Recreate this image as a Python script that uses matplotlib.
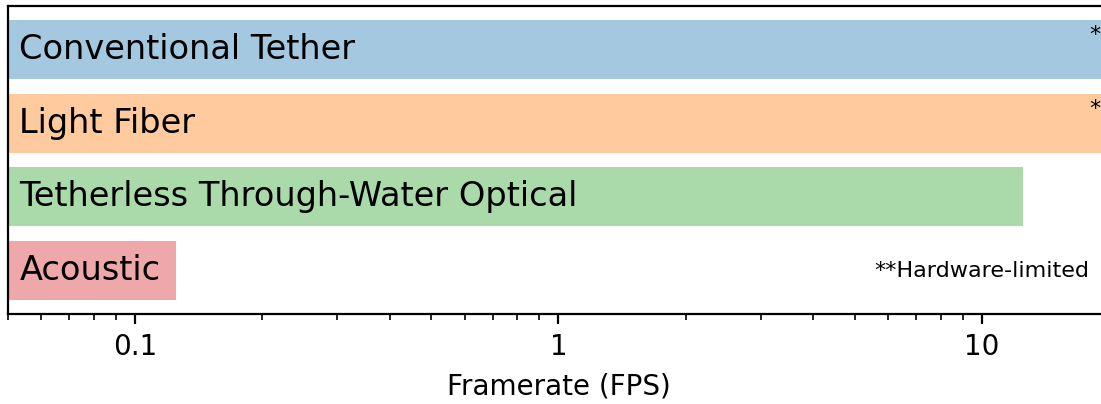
import matplotlib
matplotlib.use('Agg')
import matplotlib.pyplot as plt
import matplotlib.transforms as mtransforms

# Framerate of each underwater link type (FPS)
links = ['Conventional Tether', 'Light Fiber', 'Tetherless Through-Water Optical', 'Acoustic']
framerates = [30.0, 30.0, 12.5, 0.125]
colors = ['tab:blue', 'tab:orange', 'tab:green', 'tab:red']
hardware_limited = [True, True, False, False]

fig = plt.figure(figsize=(5.505, 2.02), dpi=200)
ax = fig.add_axes([7.5 / 1101, 90 / 404, 1102 / 1101, 308 / 404])

y_pos = list(range(len(links)))
ax.barh(y_pos, framerates, color=colors, alpha=0.4, height=0.8)
ax.set_xscale('log')
ax.set_xlim(0.05, 20)
ax.invert_yaxis()
ax.set_yticks([])
ax.set_xticks([0.1, 1, 10])
ax.set_xticklabels(['0.1', '1', '10'])
ax.set_xlabel('Framerate (FPS)', fontsize=10)
ax.tick_params(axis='x', labelsize=10)

# link names written inside the bars
for y, name in zip(y_pos, links):
    ax.annotate(name, xy=(0, y), xycoords=ax.get_yaxis_transform(),
                xytext=(4.3, 0), textcoords='offset points',
                ha='left', va='center', fontsize=12.1)

# mark the bars whose rate is capped by the hardware
trans = mtransforms.blended_transform_factory(ax.transAxes, ax.transData)
for y, flag in zip(y_pos, hardware_limited):
    if flag:
        ax.text(0.9915, y - 0.33, '*', transform=trans, ha='right', va='top',
                fontsize=8)

ax.text(0.9815, y_pos[-1], '**Hardware-limited', transform=trans,
        ha='right', va='center', fontsize=8)

fig.savefig('out.png', dpi=200)
